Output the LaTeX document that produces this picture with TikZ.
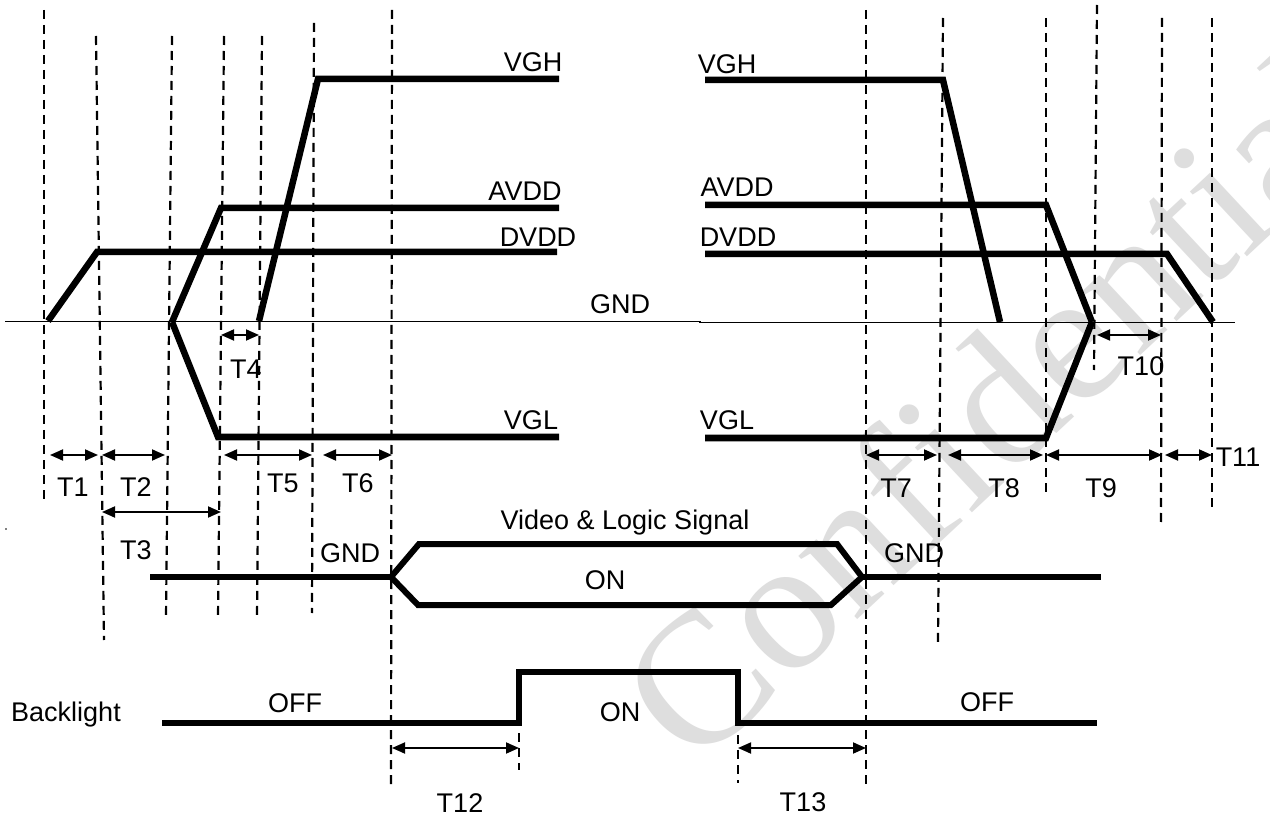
\documentclass[tikz,border=0pt]{standalone}
\usepackage{fontspec}
\setmainfont{Liberation Sans}
\newfontfamily\wmfont{Liberation Serif}
\usetikzlibrary{arrows.meta}
\begin{document}
\begin{tikzpicture}[x=1pt,y=-1pt,
  sig/.style={line width=6.5pt, line cap=butt, line join=miter},
  vsig/.style={line width=6pt, line cap=butt, line join=miter},
  blsig/.style={line width=5.5pt, line cap=butt, line join=miter},
  gnd/.style={line width=1.4pt},
  guide/.style={line width=2.2pt, dash pattern=on 9pt off 6pt},
  dim/.style={line width=1.8pt, {Triangle[length=13pt,width=11pt]}-{Triangle[length=13pt,width=11pt]}},
  lbl/.style={anchor=base, inner sep=0pt, font=\fontsize{27}{30}\selectfont},
]
\useasboundingbox[fill=white] (0,0) rectangle (1270,818);

% watermark
\begin{scope}
\clip (0,0) rectangle (1270,818);
\node[rotate=43, anchor=base west, inner sep=0pt, text=black!13,
      font=\wmfont\fontsize{188}{188}\selectfont] (wm) at (694,772) {Confidential};
\end{scope}

% dashed guide lines
\foreach \xa/\ya/\xb/\yb in {44/10/44/503, 96/36/104/640, 172/36/166/618,
  224/36/218/618, 262/36/257/618, 314/23/312/613, 392/10/391/787,
  519/733/519/770, 738/735/738/783, 866/10/866/787, 943/18/938/642,
  1046/18/1046/495, 1097/5/1094/370, 1162/18/1161/524, 1212/18/1212/512}
  \draw[guide] (\xa,\ya) -- (\xb,\yb);

% GND reference line
\draw[gnd] (5,321.5) -- (700,321.5) -- (700,322.5) -- (1235,322.5);

% power-on sequence
\draw[sig] (48,321) -- (97,252) -- (557,252);          % DVDD
\draw[sig] (172,322) -- (221,208) -- (559,208);        % AVDD
\draw[sig] (172,322) -- (218,437) -- (559,437);        % VGL
\draw[sig] (259,321) -- (318,79) -- (559,79);          % VGH

% power-off sequence
\draw[sig] (705,80) -- (943,80) -- (1000,322);         % VGH
\draw[sig] (705,205) -- (1046,205) -- (1092,322);      % AVDD
\draw[sig] (705,254) -- (1167,254) -- (1213,322);      % DVDD
\draw[sig] (705,438) -- (1046,438) -- (1092,322);      % VGL

% video & logic signal
\draw[vsig] (150,577) -- (391,577);
\draw[vsig] (391,577) -- (419,544) -- (837,544) -- (862,577);
\draw[vsig] (391,577) -- (418,605) -- (831,605) -- (862,577);
\draw[vsig] (862,577) -- (1101,577);

% backlight
\draw[blsig] (162,723) -- (519,723) -- (519,672) -- (738,672) -- (738,723) -- (1097,723);

% tiny speck
\fill (6,529) circle (0.9pt);

% dimension arrow end points
\coordinate (t1a) at (50,455);   \coordinate (t1b) at (98,455);
\coordinate (t2a) at (102,455);  \coordinate (t2b) at (165,455);
\coordinate (t3a) at (102,512);  \coordinate (t3b) at (221,512);
\coordinate (t4a) at (221,335);  \coordinate (t4b) at (259,335);
\coordinate (t5a) at (224,455);  \coordinate (t5b) at (312,455);
\coordinate (t6a) at (323,455);  \coordinate (t6b) at (392,455);
\coordinate (t7a) at (866,455);  \coordinate (t7b) at (937,455);
\coordinate (t8a) at (948,455);  \coordinate (t8b) at (1043,455);
\coordinate (t9a) at (1046,455); \coordinate (t9b) at (1162,455);
\coordinate (t10a) at (1097,335);\coordinate (t10b) at (1161,335);
\coordinate (t11a) at (1165,455);\coordinate (t11b) at (1212,455);
\coordinate (t12a) at (392,748); \coordinate (t12b) at (519,748);
\coordinate (t13a) at (738,748); \coordinate (t13b) at (866,748);
\foreach \n in {1,...,13} \draw[dim] (t\n a) -- (t\n b);

% labels
\node[lbl] (vgh1) at (533,72) {VGH};
\node[lbl] (vgh2) at (727,74) {VGH};
\node[lbl] (avdd1) at (525,201) {AVDD};
\node[lbl] (avdd2) at (737,197) {AVDD};
\node[lbl] (dvdd1) at (538,247) {DVDD};
\node[lbl] (dvdd2) at (738,247) {DVDD};
\node[lbl] (gnd0) at (620,314) {GND};
\node[lbl] (vgl1) at (531,429) {VGL};
\node[lbl] (vgl2) at (727,429) {VGL};
\node[lbl] (video) at (625,529) {Video \& Logic Signal};
\node[lbl] (von) at (605,589) {ON};
\node[lbl] (gnd1) at (350,562) {GND};
\node[lbl] (gnd2) at (914,562) {GND};
\node[lbl] (T1) at (73,496) {T1};
\node[lbl] (T2) at (136,496) {T2};
\node[lbl] (T3) at (136,559) {T3};
\node[lbl] (T4) at (246,379) {T4};
\node[lbl] (T5) at (283,492) {T5};
\node[lbl] (T6) at (358,492) {T6};
\node[lbl] (T7) at (896,497) {T7};
\node[lbl] (T8) at (1004,497) {T8};
\node[lbl] (T9) at (1101,497) {T9};
\node[lbl] (T10) at (1141,376) {T10};
\node[lbl] (T11) at (1238,466) {T11};
\node[lbl] (T12) at (460,812) {T12};
\node[lbl] (T13) at (803,811) {T13};
\node[lbl] (bl) at (66,721) {Backlight};
\node[lbl] (off1) at (295,712) {OFF};
\node[lbl] (blon) at (620,721) {ON};
\node[lbl] (off2) at (987,711) {OFF};
\end{tikzpicture}
\end{document}
